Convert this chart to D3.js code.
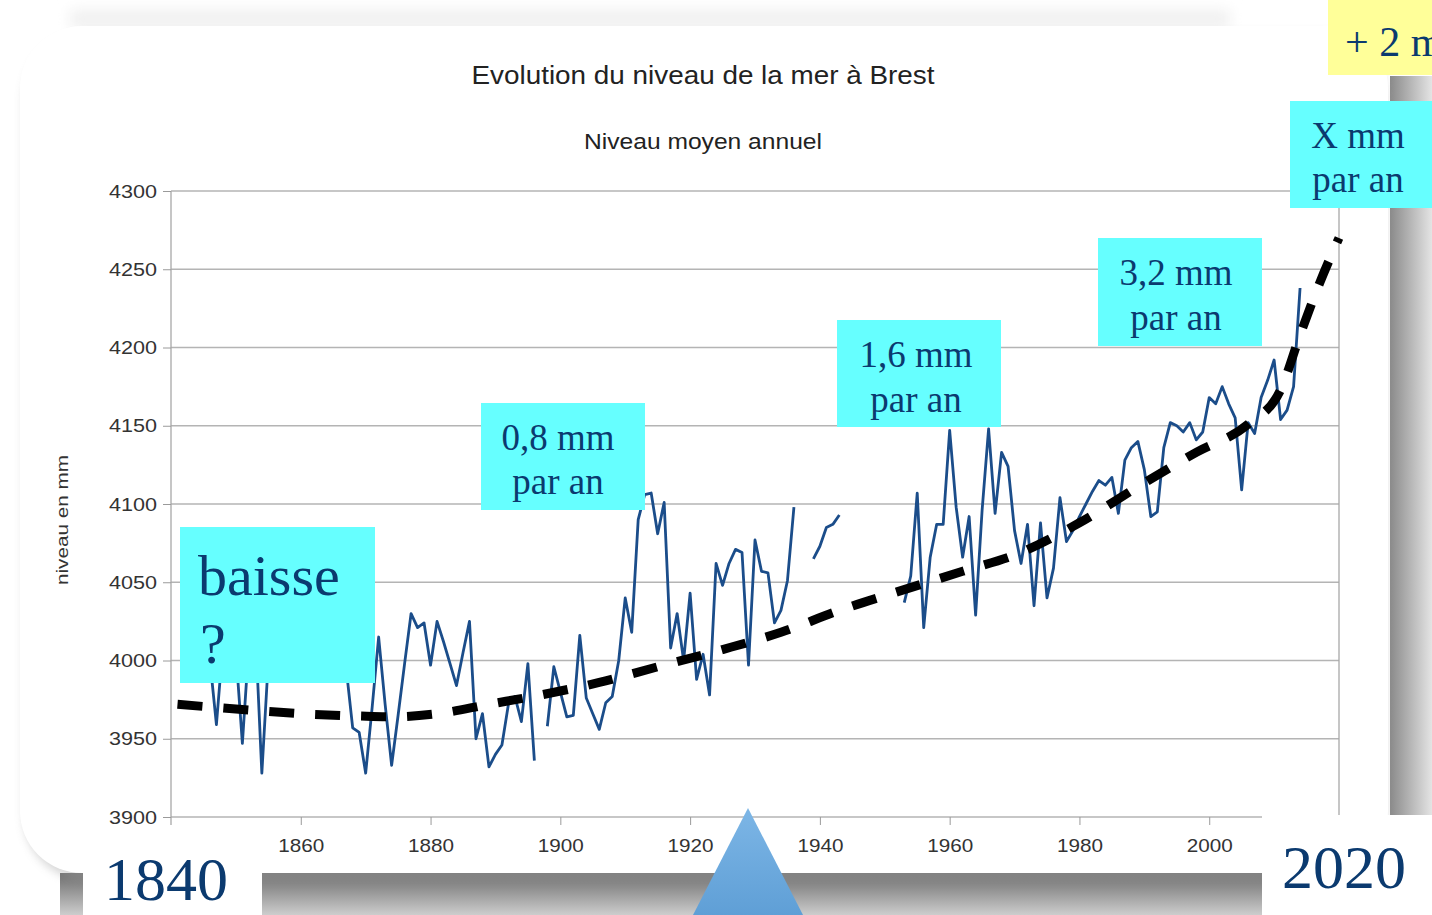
<!DOCTYPE html>
<html><head><meta charset="utf-8">
<script src="https://cdn.jsdelivr.net/npm/d3@7"></script>
<style>html,body{margin:0;padding:0;background:#fff;overflow:hidden}</style>
</head><body>
<svg id="c" width="1432" height="915"></svg>
<script>
// ---------- DATA ----------
const years = d3.range(1846, 2015);
const levels = [
  4000,3959,4010,3995,4005,3947,4010,4020,3928,4000,
  4015,4005,4020,4000,3995,4010,4025,4005,4015,4000,
  4010,3995,3957,3954,3928,3970,4015,3972,3933,3965,
  3998,4030,4021,4024,3997,4025,4012,3998,3984,4005,
  4025,3950,3966,3932,3940,3946,3972,3977,3961,3998,
  3936,null,3958,3996,3980,3964,3965,4016,3976,3966,
  3956,3973,3977,4000,4040,4018,4090,4106,4107,4081,
  4101,4008,4030,4000,4043,3988,4004,3978,4062,4048,
  4062,4071,4069,3997,4077,4057,4056,4024,4032,4051,
  4098,null,null,4065,4073,4085,4087,4093,null,null,
  null,null,null,null,null,null,null,4037,4054,4107,
  4021,4066,4087,4087,4147,4098,4066,4092,4029,4096,
  4148,4094,4133,4124,4083,4062,4087,4035,4088,4040,
  4059,4104,4076,4083,4092,4100,4108,4115,4112,4117,
  4094,4128,4136,4140,4122,4092,4095,4136,4152,4150,
  4146,4152,4141,4146,4168,4164,4175,4164,4155,4109,
  4152,4145,4168,4179,4192,4154,4160,4175,4238
];
const trendYears  = [1841,1850,1860,1869,1874,1881,1889,1897,1906,1915,1925,1934,1943,1952,1962,1971,1980,1989,1998,2006,2011,2014,2017,2020];
const trendLevels = [3972,3969,3966,3964.5,3964,3966,3972,3978,3986,3996,4007,4018,4032,4044,4057,4069,4088,4111,4133,4151,4173,4208,4241,4270];
const yTicks = [3900,3950,4000,4050,4100,4150,4200,4250,4300];
const xTicks = [1860,1880,1900,1920,1940,1960,1980,2000];
const xDomain = [1840, 2020];
const yDomain = [3900, 4300];
const title = "Evolution du niveau de la mer à Brest";
const subtitle = "Niveau moyen annuel";
const yLabel = "niveau en mm";
const rateLabels = [["baisse","?"],["0,8 mm","par an"],["1,6 mm","par an"],["3,2 mm","par an"],["X mm","par an"]];
const topLabel = "+ 2 m";
const startLabel = "1840";
const endLabel = "2020";

// ---------- LAYOUT ----------
const svg = d3.select("#c");
const defs = svg.append("defs");
const gB = defs.append("linearGradient").attr("id","gB").attr("x1",0).attr("y1",0).attr("x2",0).attr("y2",1);
gB.append("stop").attr("offset","0%").attr("stop-color","#6c6c6c");
gB.append("stop").attr("offset","100%").attr("stop-color","#cdcdcd");
const gR = defs.append("linearGradient").attr("id","gR").attr("x1",0).attr("y1",0).attr("x2",1).attr("y2",0);
gR.append("stop").attr("offset","0%").attr("stop-color","#8a8a8a");
gR.append("stop").attr("offset","100%").attr("stop-color","#e4e4e4");
const gT = defs.append("linearGradient").attr("id","gT").attr("x1",0).attr("y1",0).attr("x2",0).attr("y2",1);
gT.append("stop").attr("offset","0%").attr("stop-color","#7db6e6");
gT.append("stop").attr("offset","100%").attr("stop-color","#5f9fd6");
const blur = defs.append("filter").attr("id","blur").attr("x","-10%").attr("y","-50%").attr("width","120%").attr("height","200%");
blur.append("feGaussianBlur").attr("stdDeviation",5);
const blur2 = defs.append("filter").attr("id","blur2").attr("x","-10%").attr("y","-100%").attr("width","120%").attr("height","300%");
blur2.append("feGaussianBlur").attr("stdDeviation",7);

svg.append("rect").attr("width",1432).attr("height",915).attr("fill","#fff");
// shadows
svg.append("rect").attr("x",70).attr("y",10).attr("width",1160).attr("height",18).attr("fill","#f0f0f0").attr("filter","url(#blur2)");
svg.append("rect").attr("x",60).attr("y",873).attr("width",1240).attr("height",42).attr("fill","url(#gB)");
svg.append("rect").attr("x",1390).attr("y",76).attr("width",42).attr("height",740).attr("fill","url(#gR)");
svg.append("rect").attr("x",24).attr("y",34).attr("width",1362).attr("height",846).attr("rx",64)
  .attr("fill","#a0a0a0").attr("opacity",0.45).attr("filter","url(#blur)");
svg.append("rect").attr("x",20).attr("y",26).attr("width",1368).attr("height",847).attr("rx",62).attr("fill","#fff");

// scales
const x = d3.scaleLinear().domain(xDomain).range([171, 1339]);
const y = d3.scaleLinear().domain(yDomain).range([817, 191]);

// gridlines
svg.append("g").selectAll("line").data(yTicks).join("line")
  .attr("x1", x(xDomain[0])).attr("x2", x(xDomain[1]))
  .attr("y1", d => y(d)).attr("y2", d => y(d))
  .attr("stroke", "#b4b4b4").attr("stroke-width", 1.3);
// frame verticals
svg.append("line").attr("x1",x(xDomain[0])).attr("x2",x(xDomain[0])).attr("y1",y(yDomain[1])).attr("y2",y(yDomain[0])+8).attr("stroke","#a8a8a8").attr("stroke-width",1.3);
svg.append("line").attr("x1",x(xDomain[1])).attr("x2",x(xDomain[1])).attr("y1",y(yDomain[1])).attr("y2",y(yDomain[0])).attr("stroke","#a8a8a8").attr("stroke-width",1.3);

// axes
const yAxis = svg.append("g").attr("transform",`translate(${x(xDomain[0])},0)`)
  .call(d3.axisLeft(y).tickValues(yTicks).tickSize(8).tickPadding(6).tickFormat(d3.format("d")));
yAxis.select(".domain").remove();
yAxis.selectAll("line").attr("stroke","#9a9a9a");
yAxis.selectAll("text").attr("font-family","'Liberation Sans', Arial, sans-serif").attr("font-size",19)
  .attr("fill","#333").attr("textLength",48).attr("lengthAdjust","spacingAndGlyphs");

const xAxis = svg.append("g").attr("transform",`translate(0,${y(yDomain[0])})`)
  .call(d3.axisBottom(x).tickValues(xTicks).tickSize(8).tickPadding(14).tickFormat(d3.format("d")));
xAxis.select(".domain").remove();
xAxis.selectAll("line").attr("stroke","#9a9a9a");
xAxis.selectAll("text").attr("font-family","'Liberation Sans', Arial, sans-serif").attr("font-size",19)
  .attr("fill","#333").attr("textLength",46).attr("lengthAdjust","spacingAndGlyphs");

// titles
svg.append("text").attr("x",703).attr("y",84).attr("text-anchor","middle")
  .attr("font-family","'Liberation Sans', Arial, sans-serif").attr("font-size",26).attr("fill","#222")
  .attr("textLength",463).attr("lengthAdjust","spacingAndGlyphs").text(title);
svg.append("text").attr("x",703).attr("y",149).attr("text-anchor","middle")
  .attr("font-family","'Liberation Sans', Arial, sans-serif").attr("font-size",22).attr("fill","#222")
  .attr("textLength",238).attr("lengthAdjust","spacingAndGlyphs").text(subtitle);
svg.append("text").attr("transform","translate(68,520) rotate(-90)").attr("text-anchor","middle")
  .attr("font-family","'Liberation Sans', Arial, sans-serif").attr("font-size",17).attr("fill","#333")
  .attr("textLength",130).attr("lengthAdjust","spacingAndGlyphs").text(yLabel);

// data line
const pts = years.map((yr, i) => ({yr, v: levels[i]}));
svg.append("path").datum(pts)
  .attr("d", d3.line().defined(d => d.v != null).x(d => x(d.yr)).y(d => y(d.v)))
  .attr("fill","none").attr("stroke","#1b4d8a").attr("stroke-width",2.8).attr("stroke-linejoin","round");

// trend
const tr = trendYears.map((yr, i) => ({yr, v: trendLevels[i]}));
svg.append("path").datum(tr)
  .attr("d", d3.line().curve(d3.curveMonotoneX).x(d => x(d.yr)).y(d => y(d.v)))
  .attr("fill","none").attr("stroke","#000").attr("stroke-width",9).attr("stroke-dasharray","25 21");

// annotation boxes
const cyan = "#66ffff", navy = "#0b3a6f";
const boxes = [
  {x:180, y:527, w:195, h:156, tx:198, anchor:"start", fs:58, b:[595,663]},
  {x:481, y:403, w:164, h:107, tx:558, anchor:"middle", fs:37, b:[450,494]},
  {x:837, y:320, w:164, h:107, tx:916, anchor:"middle", fs:37, b:[367,412]},
  {x:1098, y:238, w:164, h:108, tx:1176, anchor:"middle", fs:37, b:[285,330]},
  {x:1290, y:101, w:142, h:107, tx:1358, anchor:"middle", fs:37, b:[148,192]}
];
boxes.forEach((bx, i) => {
  svg.append("rect").attr("x",bx.x).attr("y",bx.y).attr("width",bx.w).attr("height",bx.h).attr("fill",cyan);
  rateLabels[i].forEach((t, j) => {
    svg.append("text").attr("x", bx.tx + (bx.anchor==="start" && j===1 ? 2 : 0)).attr("y", bx.b[j])
      .attr("text-anchor", bx.anchor).attr("font-family","'Liberation Serif', 'Times New Roman', serif")
      .attr("font-size", bx.fs).attr("fill", navy).text(t);
  });
});

// top yellow box
svg.append("rect").attr("x",1328).attr("y",0).attr("width",104).attr("height",75).attr("fill","#ffff99");
svg.append("text").attr("x",1345).attr("y",56).attr("font-family","'Liberation Serif', 'Times New Roman', serif")
  .attr("font-size",42).attr("fill",navy).text(topLabel);

// year boxes
svg.append("rect").attr("x",83).attr("y",842).attr("width",179).attr("height",73).attr("fill","#fff");
svg.append("text").attr("x",104).attr("y",900).attr("font-family","'Liberation Serif', 'Times New Roman', serif")
  .attr("font-size",62).attr("fill",navy).text(startLabel);
svg.append("rect").attr("x",1262).attr("y",815).attr("width",170).attr("height",100).attr("fill","#fff");
svg.append("text").attr("x",1282).attr("y",888).attr("font-family","'Liberation Serif', 'Times New Roman', serif")
  .attr("font-size",62).attr("fill",navy).text(endLabel);

// blue pointer triangle
svg.append("path").attr("d","M748,808 L803,915 L693,915 Z").attr("fill","url(#gT)");
</script>
</body></html>
